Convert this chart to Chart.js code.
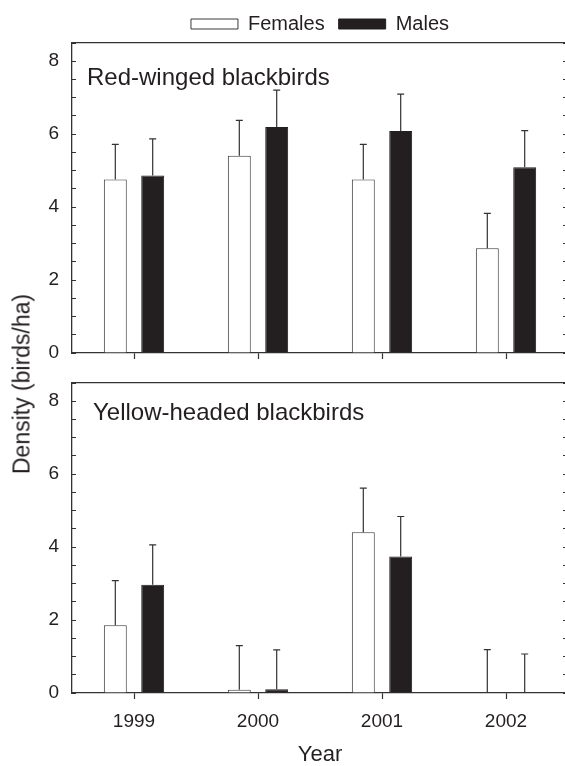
<!DOCTYPE html>
<html><head><meta charset="utf-8">
<script src="https://cdn.jsdelivr.net/npm/chart.js@4/dist/chart.umd.min.js"></script>
<style>
html,body{margin:0;padding:0;background:#fff;overflow:hidden;width:565px;height:766px;position:relative;}
#c1{position:absolute;left:0;top:0;}
#c2{position:absolute;left:0;top:370px;}
#ytitle{position:absolute;left:22px;top:384px;transform:translate(-50%,-50%) rotate(-90deg);font:23px 'Liberation Sans',Arial,sans-serif;color:#231f20;white-space:nowrap;}
</style></head><body>
<canvas id="c1" width="580" height="370"></canvas>
<canvas id="c2" width="580" height="396"></canvas>
<div id="ytitle">Density (birds/ha)</div>
<script>
// ---- data ----
const years = ['1999', '2000', '2001', '2002'];
const seriesNames = ['Females', 'Males'];
const panelTitles = ['Red-winged blackbirds', 'Yellow-headed blackbirds'];
const xTitle = 'Year';

const redFemales   = [4.76, 5.41, 4.76, 2.87];
const redFemalesSE = [0.96, 0.97, 0.96, 0.96];
const redMales     = [4.87, 6.20, 6.09, 5.09];
const redMalesSE   = [1.00, 1.01, 1.01, 1.01];

const yellowFemales   = [1.86, 0.09, 4.41, 0];
const yellowFemalesSE = [1.22, 1.21, 1.21, 1.19];
const yellowMales     = [2.97, 0.10, 3.74, 0];
const yellowMalesSE   = [1.09, 1.08, 1.10, 1.07];

const yTickValues = [0, 0.5, 1, 1.5, 2, 2.5, 3, 3.5, 4, 4.5, 5, 5.5, 6, 6.5, 7, 7.5, 8, 8.5];
const yLabelValues = [0, 2, 4, 6, 8];
const yMin = 0, yMax = 8.5;

// ---- styling ----
const FONT = "'Liberation Sans', Arial, sans-serif";
Chart.defaults.font.family = FONT;
Chart.defaults.color = '#231f20';
const AXIS = '#333333';

const errorBars = {
  id: 'errorBars',
  afterDatasetsDraw(chart, args, opts) {
    const ctx = chart.ctx, ys = chart.scales.y;
    chart.data.datasets.forEach((ds, di) => {
      const meta = chart.getDatasetMeta(di);
      meta.data.forEach((bar, i) => {
        const v = ds.data[i], e = ds.errors[i];
        const x = bar.x;
        const yb = ys.getPixelForValue(v), yt = ys.getPixelForValue(v + e);
        ctx.save();
        ctx.strokeStyle = opts.color; ctx.lineWidth = opts.width;
        ctx.beginPath();
        ctx.moveTo(x, yb); ctx.lineTo(x, yt);
        ctx.moveTo(x - opts.cap / 2, yt); ctx.lineTo(x + opts.cap / 2, yt);
        ctx.stroke();
        ctx.restore();
      });
    });
  }
};

const panelLabel = {
  id: 'panelLabel',
  afterDraw(chart, args, opts) {
    const ctx = chart.ctx;
    ctx.save();
    ctx.font = opts.size + 'px ' + FONT;
    ctx.fillStyle = '#231f20';
    ctx.textBaseline = 'alphabetic';
    ctx.fillText(opts.text, opts.x, opts.y);
    ctx.restore();
  }
};

function noVPad(s) { s.paddingTop = 0; s.paddingBottom = 0; }

function makeChart(canvasId, title, fem, femSE, mal, malSE, isBottom) {
  return new Chart(document.getElementById(canvasId), {
    type: 'bar',
    data: {
      labels: years,
      datasets: [
        { label: seriesNames[0], data: fem, errors: femSE, backgroundColor: '#ffffff', borderColor: '#3a3a3a', borderWidth: 1, borderSkipped: 'start' },
        { label: seriesNames[1], data: mal, errors: malSE, backgroundColor: '#231f20', borderColor: '#231f20', borderWidth: 1, borderSkipped: 'start' }
      ]
    },
    plugins: [errorBars, panelLabel],
    options: {
      responsive: false,
      animation: false,
      devicePixelRatio: 1,
      categoryPercentage: 0.603,
      barPercentage: 0.613,
      layout: { padding: { top: isBottom ? 13 : 0, left: 0, right: 0, bottom: 0 } },
      plugins: {
        legend: {
          display: !isBottom, position: 'top', fullSize: false, maxHeight: 43,
          labels: { boxWidth: 47, boxHeight: 10, padding: 14, font: { size: 20 }, color: '#231f20' }
        },
        tooltip: { enabled: false },
        errorBars: { color: '#333333', width: 1.2, cap: 7 },
        panelLabel: isBottom ? { text: title, x: 93, y: 50, size: 24 } : { text: title, x: 87, y: 85, size: 24 }
      },
      scales: {
        x: {
          type: 'category', position: 'bottom', offset: true,
          grid: { offset: false, drawOnChartArea: false, drawTicks: true, tickLength: 6, tickColor: AXIS, tickWidth: 1.2 },
          border: { display: true, color: AXIS, width: 1.3 },
          ticks: { display: isBottom, font: { size: 19 }, padding: 11, color: '#231f20', maxRotation: 0 },
          title: { display: isBottom, text: xTitle, font: { size: 22, lineHeight: 1 }, padding: 0, color: '#231f20' },
          afterFit: s => { s.height = isBottom ? 73 : 17; }
        },
        xTop: {
          type: 'category', position: 'top', offset: true,
          grid: { drawOnChartArea: false, drawTicks: false },
          border: { display: true, color: AXIS, width: 1.3 },
          ticks: { display: false },
          afterFit: s => { s.height = 0; }
        },
        y: {
          type: 'linear', position: 'left', min: yMin, max: yMax,
          afterBuildTicks: s => { s.ticks = yTickValues.map(v => ({ value: v })); },
          ticks: { autoSkip: false, font: { size: 19 }, padding: 17, color: '#231f20',
                   callback: v => yLabelValues.includes(v) ? String(v) : '' },
          grid: { drawOnChartArea: false, drawTicks: true, tickLength: -4, tickColor: AXIS, tickWidth: 1 },
          border: { display: true, color: AXIS, width: 1.3 },
          afterFit: s => { s.width = 72; noVPad(s); }
        },
        yR: {
          type: 'linear', position: 'right', min: yMin, max: yMax,
          afterBuildTicks: s => { s.ticks = yTickValues.map(v => ({ value: v })); },
          ticks: { display: false, autoSkip: false },
          grid: { drawOnChartArea: false, drawTicks: true, tickLength: -5, tickColor: AXIS, tickWidth: 1 },
          border: { display: true, color: AXIS, width: 1.3 },
          afterFit: s => { s.width = 12; noVPad(s); }
        }
      }
    }
  });
}

makeChart('c1', panelTitles[0], redFemales, redFemalesSE, redMales, redMalesSE, false);
makeChart('c2', panelTitles[1], yellowFemales, yellowFemalesSE, yellowMales, yellowMalesSE, true);
</script>
</body></html>
